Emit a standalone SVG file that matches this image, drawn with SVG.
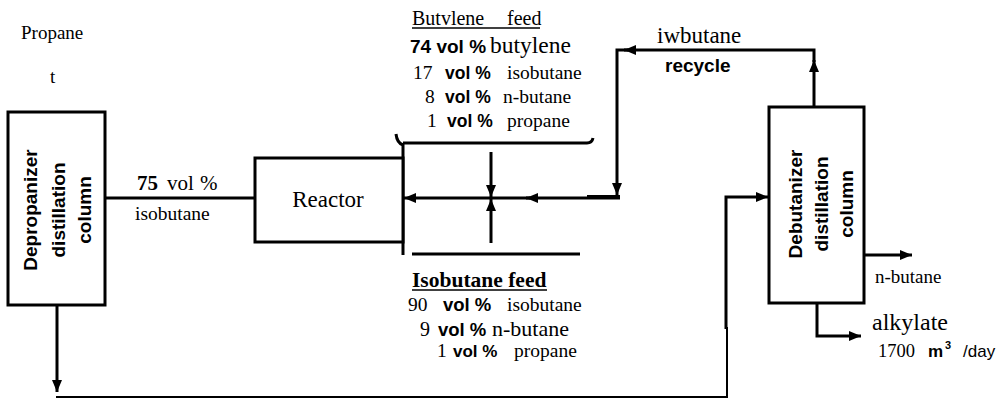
<svg xmlns="http://www.w3.org/2000/svg" width="1002" height="398" viewBox="0 0 1002 398">
<style>
.box{fill:#fff;stroke:#000;stroke-width:3}
.ln{fill:none;stroke:#000;stroke-width:3}
.thin{fill:none;stroke:#000;stroke-width:2}
.ul{stroke:#000;stroke-width:1.5}
text{font-family:"Liberation Serif","Times New Roman",serif;font-size:19.5px;fill:#000}
.sb{font-family:"Liberation Sans",Arial,sans-serif;font-weight:bold}
.ss{font-family:"Liberation Sans",Arial,sans-serif}
.bs{font-weight:bold}
.col{font-family:"Liberation Sans",Arial,sans-serif;font-weight:bold;font-size:19px;text-anchor:middle}
</style>
<defs>
<marker id="ah" markerUnits="userSpaceOnUse" markerWidth="13" markerHeight="10" refX="12" refY="5" orient="auto">
<path d="M0,0 L12,5 L0,10 z" fill="#000"/>
</marker>
</defs>
<rect width="1002" height="398" fill="#fff"/>

<g id="connectors">
<line class="ln" x1="105" y1="198" x2="255" y2="198"/>
<line class="ln" x1="57" y1="305" x2="57" y2="392" marker-end="url(#ah)"/>
<polyline class="thin" points="56,397 727,397 727,327"/>
<polyline class="ln" points="726,329 726,197 768,197" marker-end="url(#ah)"/>
<line class="ln" x1="814" y1="107" x2="814" y2="60" marker-end="url(#ah)"/>
<polyline class="ln" points="814,62 814,50 624,50" marker-end="url(#ah)"/>
<polyline class="ln" points="628,50 617,50 617,195" marker-end="url(#ah)"/>
<line class="ln" x1="620" y1="198" x2="526" y2="198" marker-end="url(#ah)"/>
<line class="ln" x1="530" y1="198" x2="404" y2="198" marker-end="url(#ah)"/>
<line x1="587" y1="197" x2="620" y2="197" stroke="#000" stroke-width="4"/>
<line class="ln" x1="491" y1="152" x2="491" y2="197" marker-end="url(#ah)"/>
<line class="ln" x1="491" y1="243" x2="491" y2="199" marker-end="url(#ah)"/>
<path class="ln" d="M396,134 Q397,143 403,145 L403,255"/>
<path class="ln" d="M403,143 L587,143 Q592,143 593,138"/>
<line class="ln" x1="412" y1="254" x2="580" y2="254"/>
<line class="ln" x1="864" y1="255" x2="912" y2="255" marker-end="url(#ah)"/>
<polyline class="ln" points="817,303 817,336 861,336" marker-end="url(#ah)"/>
</g>

<g id="depropanizer">
<rect class="box" x="8" y="112" width="97" height="193"/>
<g transform="translate(56,210) rotate(-90)">
<text class="col" x="0" y="-19">Depropanizer</text>
<text class="col" x="0" y="9">distillation</text>
<text class="col" x="0" y="35">column</text>
</g>
</g>

<g id="reactor">
<rect class="box" x="255" y="158" width="148" height="84"/>
<text x="328" y="207" style="font-size:23px" text-anchor="middle">Reactor</text>
</g>

<g id="debutanizer">
<rect class="box" x="769" y="107" width="95" height="196"/>
<g transform="translate(817,204) rotate(-90)">
<text class="col" x="0" y="-15">Debutanizer</text>
<text class="col" x="0" y="11">distillation</text>
<text class="col" x="0" y="36">column</text>
</g>
</g>

<g id="propane">
<text x="21" y="39" style="font-size:19px">Propane</text>
<text x="50" y="83" style="font-size:19px">t</text>
</g>

<g id="isobutane-stream">
<text x="137" y="190" style="font-size:21px"><tspan class="bs">75</tspan><tspan x="167">vol</tspan><tspan x="200">%</tspan></text>
<text x="135" y="220">isobutane</text>
</g>

<g id="butylene-feed">
<text x="412" y="25" style="font-size:20px">Butvlene</text>
<text x="507" y="25" style="font-size:20px">feed</text>
<line class="ul" x1="412" y1="28" x2="540" y2="28"/>
<text y="53"><tspan class="sb" x="410" style="font-size:19px">74 vol %</tspan><tspan x="490" style="font-size:23.5px">butylene</tspan></text>
<text y="79"><tspan x="413">17</tspan><tspan class="sb" x="445" style="font-size:17.5px">vol %</tspan><tspan x="507">isobutane</tspan></text>
<text y="103"><tspan x="425">8</tspan><tspan class="sb" x="445" style="font-size:17.5px">vol %</tspan><tspan x="503">n-butane</tspan></text>
<text y="127"><tspan x="427">1</tspan><tspan class="sb" x="447" style="font-size:17.5px">vol %</tspan><tspan x="507">propane</tspan></text>
</g>

<g id="isobutane-feed">
<text x="412" y="287" class="bs" style="font-size:21.5px">Isobutane feed</text>
<line class="ul" x1="412" y1="290" x2="547" y2="290"/>
<text y="311"><tspan x="408">90</tspan><tspan class="sb" x="443" style="font-size:18.5px">vol %</tspan><tspan x="507">isobutane</tspan></text>
<text y="336"><tspan x="420" style="font-size:20px">9</tspan><tspan class="sb" x="438" style="font-size:18.5px">vol %</tspan><tspan x="492" style="font-size:22px">n-butane</tspan></text>
<text y="357"><tspan x="437">1</tspan><tspan class="sb" x="453" style="font-size:17px">vol %</tspan><tspan x="514">propane</tspan></text>
</g>

<g id="recycle">
<text x="657" y="43" style="font-size:23px">iwbutane</text>
<text x="665" y="72" class="sb" style="font-size:19px">recycle</text>
</g>

<g id="products">
<text x="875" y="283" style="font-size:19px">n-butane</text>
<text x="872" y="330" style="font-size:24px">alkylate</text>
<text y="357"><tspan x="878" style="font-size:18.5px">1700</tspan><tspan class="sb" x="928" style="font-size:17px">m</tspan><tspan class="sb" x="945" y="349" style="font-size:11px">3</tspan><tspan class="ss" x="963" y="357" style="font-size:17px">/day</tspan></text>
</g>
</svg>
